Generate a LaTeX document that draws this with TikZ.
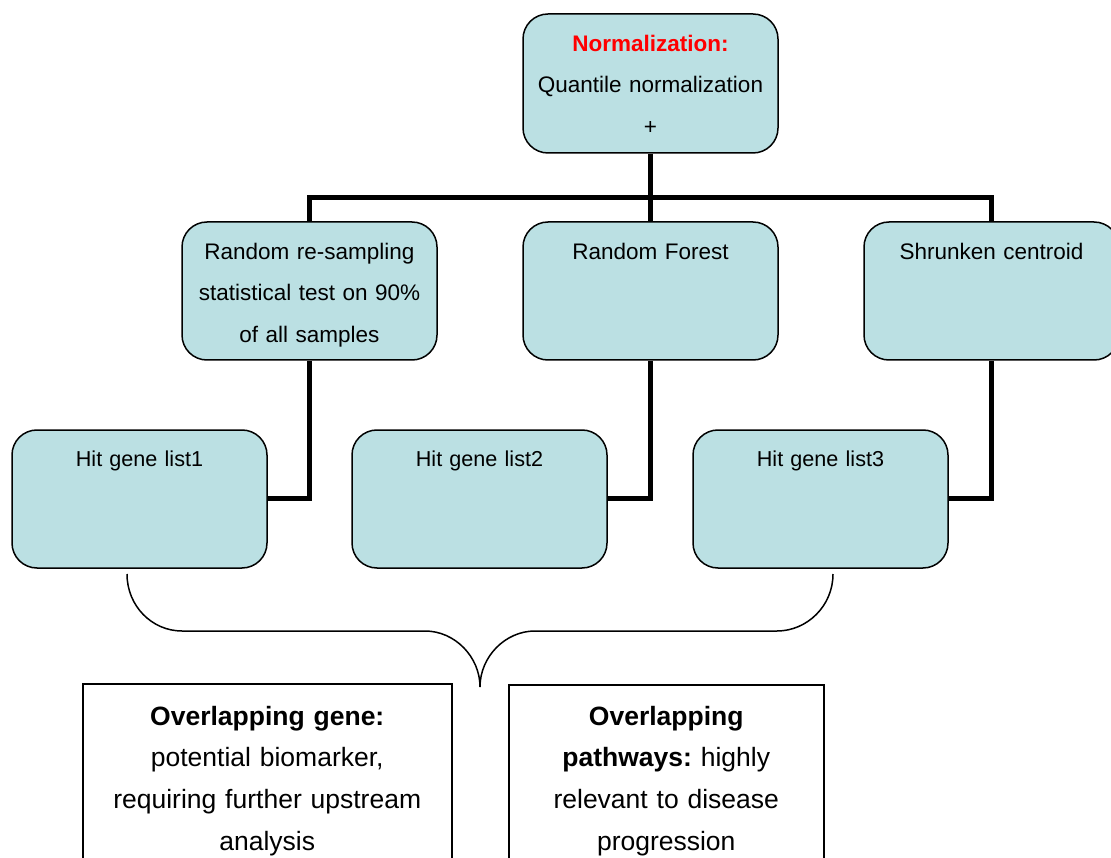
\documentclass[tikz,border=0pt]{standalone}
\usepackage{fontspec}
\setmainfont{Liberation Sans}
\usetikzlibrary{calc}
\frenchspacing
\definecolor{boxblue}{RGB}{187,224,227}
\definecolor{nred}{RGB}{255,0,0}
\tikzset{
  bluebox/.style={draw=black, fill=boxblue, line width=1.5pt, rounded corners=25pt,
    minimum width=255pt, minimum height=138pt, inner sep=0pt},
  plainbox/.style={draw=black, line width=1.5pt, fill=white, inner sep=0pt, anchor=north west},
  conn/.style={line width=5pt, line join=miter, black},
  brace/.style={line width=1.5pt, black},
  txt/.style={anchor=base, inner sep=0pt, text width=340pt, align=center,
    font=\fontsize{22.5}{41.5}\selectfont},
  smalltxt/.style={anchor=base, inner sep=0pt, text width=240pt, align=center,
    font=\fontsize{21.6}{30}\selectfont},
  bigtxt/.style={anchor=base, inner sep=0pt, text width=400pt, align=center,
    font=\fontsize{26.5}{41.7}\selectfont}
}
\begin{document}
\begin{tikzpicture}[x=1pt,y=-1pt]
\clip (0,0) rectangle (1111,858);
\fill[white] (0,0) rectangle (1111,858);
\coordinate (j) at (650.5,197.5);
% boxes
\node[bluebox, minimum height=139pt] (norm) at (650.5,83.5) {};
\node[bluebox] (rs) at (309.5,291) {};
\node[bluebox] (rf) at (650.5,291) {};
\node[bluebox] (sc) at (991.5,291) {};
\node[bluebox] (h1) at (139.5,499) {};
\node[bluebox] (h2) at (479.5,499) {};
\node[bluebox] (h3) at (820.5,499) {};
% connectors
\draw[conn] (norm.south) -- (rf.north);
\draw[conn] (rs.north) |- (sc.north |- j) -- (sc.north);
\draw[conn] (rs.south) |- ($(h1.east)+(0,-1)$);
\draw[conn] (rf.south) |- ($(h2.east)+(0,-1)$);
\draw[conn] (sc.south) |- ($(h3.east)+(0,-1)$);
% texts
\node[txt] (tnorm) at ($(norm.north)+(0,38)$) {\textcolor{nred}{\textbf{Normalization:}}\\Quantile normalization\\+};
\node[txt] (trs) at ($(rs.north)+(0,38)$) {Random re-sampling\\statistical test on 90\%\\of all samples};
\node[txt] (trf) at ($(rf.north)+(0,38)$) {Random Forest};
\node[txt] (tsc) at ($(sc.north)+(0,38)$) {Shrunken centroid};
\node[smalltxt] (th1) at ($(h1.north)+(0,37.5)$) {Hit gene list1};
\node[smalltxt] (th2) at ($(h2.north)+(0,37.5)$) {Hit gene list2};
\node[smalltxt] (th3) at ($(h3.north)+(0,37.5)$) {Hit gene list3};
% brace
\coordinate (bl) at (127,574);
\coordinate (bt) at (480,687);
\coordinate (br) at (833,574);
\draw[brace] (bl) .. controls (127,606) and (152,631) .. (182,631) -- (425,631)
  .. controls (455,631) and (480,657) .. (bt)
  .. controls (480,657) and (505,631) .. (535,631) -- (777,631)
  .. controls (807,631) and (833,606) .. (br);
% bottom boxes
\node[plainbox, minimum width=369pt, minimum height=200pt] (o1) at (82,683) {};
\node[plainbox, minimum width=315pt, minimum height=200pt] (o2) at (508,684) {};
\node[bigtxt] (to1) at ($(o1.north)+(0,42)$) {\textbf{Overlapping gene:}\\potential biomarker,\\requiring further upstream\\analysis};
\node[bigtxt] (to2) at ($(o2.north)+(0,41)$) {\textbf{Overlapping}\\\textbf{pathways:} highly\\relevant to disease\\progression};
\end{tikzpicture}
\end{document}
